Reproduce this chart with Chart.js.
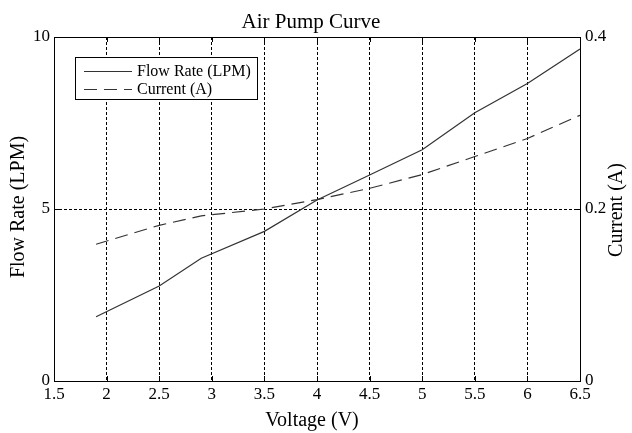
<!DOCTYPE html>
<html>
<head>
<meta charset="utf-8">
<script src="https://cdn.jsdelivr.net/npm/chart.js@4.4.1/dist/chart.umd.min.js"></script>
<style>
  html, body { margin: 0; padding: 0; background: #fff; }
  #wrap { width: 632px; height: 433px; position: relative; }
</style>
</head>
<body>
<div id="wrap"><canvas id="c"></canvas></div>
<script>
const chartTitle = "Air Pump Curve";
const xTitle = "Voltage (V)";
const yLeftTitle = "Flow Rate (LPM)";
const yRightTitle = "Current (A)";
const seriesNames = ["Flow Rate (LPM)", "Current (A)"];

const voltage  = [1.9, 2.5, 2.9, 3.5, 4.0, 4.5, 5.0, 5.5, 6.0, 6.5];
const flowRate = [1.87, 2.76, 3.57, 4.35, 5.26, 5.99, 6.72, 7.80, 8.65, 9.65];
const current  = [0.159, 0.181, 0.192, 0.200, 0.211, 0.224, 0.240, 0.261, 0.282, 0.309];

const xTicks = [1.5, 2, 2.5, 3, 3.5, 4, 4.5, 5, 5.5, 6, 6.5];
const yLeftTicks = [0, 5, 10];
const yRightTicks = [0, 0.2, 0.4];

const SERIF = "'Liberation Serif', 'DejaVu Serif', serif";
const LINE_COLOR = "#333333";

const decorPlugin = {
  id: 'decor',
  afterDraw(chart) {
    const ctx = chart.ctx;
    const a = chart.chartArea;
    const xs = chart.scales.x, yl = chart.scales.y, yr = chart.scales.y1;
    ctx.save();
    // frame
    ctx.strokeStyle = '#000';
    ctx.lineWidth = 1;
    ctx.setLineDash([]);
    ctx.strokeRect(Math.round(a.left) + 0.5, Math.round(a.top) + 0.5,
                   Math.round(a.right - a.left), Math.round(a.bottom - a.top));
    // inward tick marks
    ctx.beginPath();
    xTicks.forEach(v => {
      const px = Math.round(xs.getPixelForValue(v)) + 0.5;
      ctx.moveTo(px, a.bottom); ctx.lineTo(px, a.bottom - 5);
      ctx.moveTo(px, a.top); ctx.lineTo(px, a.top + 5);
    });
    yLeftTicks.forEach(v => {
      const py = Math.round(yl.getPixelForValue(v)) + 0.5;
      ctx.moveTo(a.left, py); ctx.lineTo(a.left + 5, py);
    });
    yRightTicks.forEach(v => {
      const py = Math.round(yr.getPixelForValue(v)) + 0.5;
      ctx.moveTo(a.right, py); ctx.lineTo(a.right - 5, py);
    });
    ctx.stroke();

    // titles
    ctx.fillStyle = '#000';
    ctx.textAlign = 'center';
    ctx.textBaseline = 'alphabetic';
    ctx.font = "21px " + SERIF;
    ctx.fillText(chartTitle, 311, 28);
    ctx.font = "20px " + SERIF;
    ctx.fillText(xTitle, 312, 426);
    ctx.save();
    ctx.translate(24, 207);
    ctx.rotate(-Math.PI / 2);
    ctx.fillText(yLeftTitle, 0, 0);
    ctx.restore();
    ctx.save();
    ctx.translate(622, 210);
    ctx.rotate(-Math.PI / 2);
    ctx.fillText(yRightTitle, 0, 0);
    ctx.restore();

    // legend
    const bx = 75.5, by = 57.5, bw = 182, bh = 42;
    ctx.fillStyle = '#fff';
    ctx.fillRect(bx, by, bw, bh);
    ctx.strokeStyle = '#000';
    ctx.lineWidth = 1;
    ctx.strokeRect(bx, by, bw, bh);
    const rows = [71, 89];
    chart.data.datasets.forEach((ds, i) => {
      ctx.strokeStyle = ds.borderColor;
      ctx.lineWidth = ds.borderWidth;
      ctx.setLineDash(ds.borderDash || []);
      ctx.beginPath();
      ctx.moveTo(84, rows[i] + 0.5);
      ctx.lineTo(132, rows[i] + 0.5);
      ctx.stroke();
      ctx.setLineDash([]);
      ctx.fillStyle = '#000';
      ctx.font = "16px " + SERIF;
      ctx.textAlign = 'left';
      ctx.textBaseline = 'middle';
      ctx.fillText(ds.label, 137, rows[i] + 1);
    });
    ctx.restore();
  }
};

new Chart(document.getElementById('c'), {
  type: 'line',
  data: {
    datasets: [
      {
        label: seriesNames[0],
        data: voltage.map((v, i) => ({ x: v, y: flowRate[i] })),
        yAxisID: 'y',
        borderColor: LINE_COLOR,
        borderWidth: 1.2,
        pointRadius: 0,
        tension: 0,
        fill: false
      },
      {
        label: seriesNames[1],
        data: voltage.map((v, i) => ({ x: v, y: current[i] })),
        yAxisID: 'y1',
        borderColor: LINE_COLOR,
        borderWidth: 1.2,
        borderDash: [13, 7],
        pointRadius: 0,
        tension: 0,
        fill: false
      }
    ]
  },
  options: {
    responsive: true,
    maintainAspectRatio: false,
    animation: false,
    devicePixelRatio: 1,
    layout: { padding: { top: 37, left: 0, right: 0, bottom: 0 } },
    plugins: {
      legend: { display: false },
      title: { display: false },
      tooltip: { enabled: false }
    },
    scales: {
      x: {
        type: 'linear',
        min: 1.5, max: 6.5,
        afterBuildTicks: s => { s.ticks = xTicks.map(v => ({ value: v })); },
        afterFit: s => { s.height = 52; },
        grid: { display: true, color: '#000', lineWidth: 1, drawTicks: false },
        border: { display: false, dash: [3, 2] },
        ticks: {
          color: '#000', padding: 3, maxRotation: 0, autoSkip: false,
          font: { family: SERIF, size: 17 },
          callback: v => String(v)
        }
      },
      y: {
        type: 'linear', position: 'left',
        min: 0, max: 10,
        afterBuildTicks: s => { s.ticks = yLeftTicks.map(v => ({ value: v })); },
        afterFit: s => { s.width = 54; },
        grid: { display: true, color: '#000', lineWidth: 1, drawTicks: false },
        border: { display: false, dash: [3, 2] },
        ticks: {
          color: '#000', padding: 4,
          font: { family: SERIF, size: 17 },
          callback: v => String(v)
        }
      },
      y1: {
        type: 'linear', position: 'right',
        min: 0, max: 0.4,
        afterBuildTicks: s => { s.ticks = yRightTicks.map(v => ({ value: v })); },
        afterFit: s => { s.width = 52; },
        grid: { display: false, drawTicks: false },
        border: { display: false },
        ticks: {
          color: '#000', padding: 5,
          font: { family: SERIF, size: 17 },
          callback: v => String(+v.toFixed(2))
        }
      }
    }
  },
  plugins: [decorPlugin]
});
</script>
</body>
</html>
